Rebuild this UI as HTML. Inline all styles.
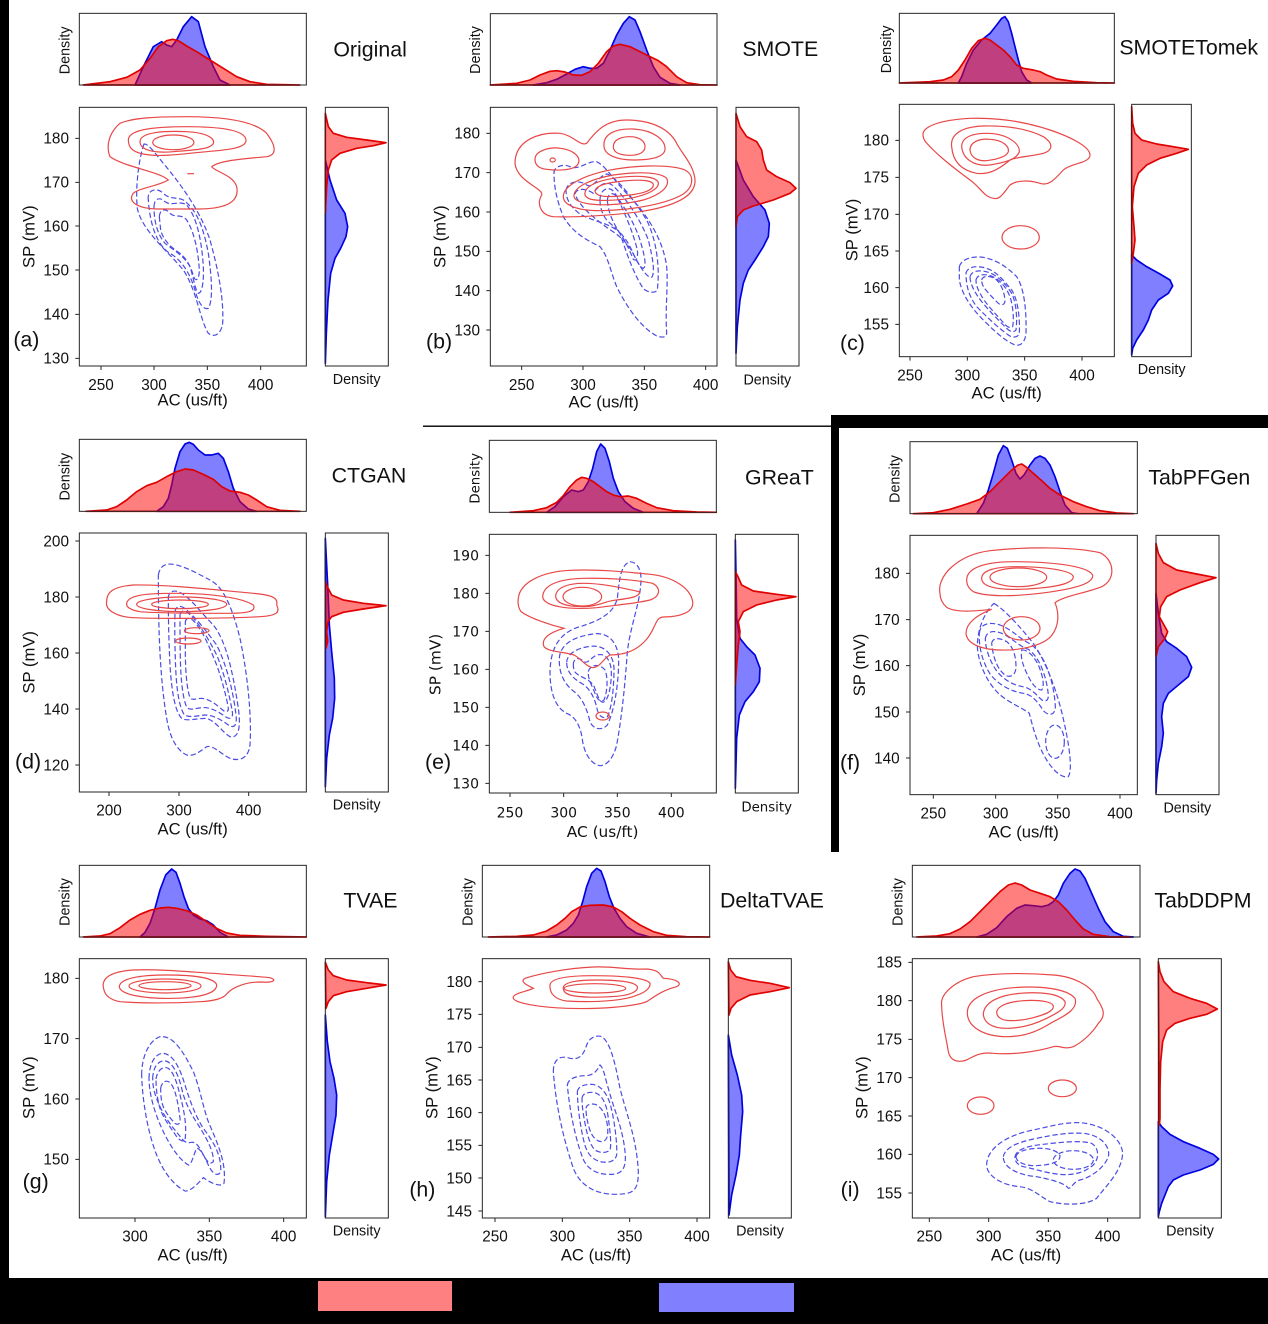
<!DOCTYPE html>
<html><head><meta charset="utf-8"><style>
html,body{margin:0;padding:0;background:#fff}
svg{display:block}
text{font-family:"Liberation Sans",Arial,sans-serif;fill:#111}
.fr{fill:none;stroke:#262626;stroke-width:3}
.tk{stroke:#262626;stroke-width:3;fill:none}
.rc{fill:none;stroke:#e84848;stroke-width:3.6}
.bc{fill:none;stroke:#4c4ce4;stroke-width:3.6;stroke-dasharray:16 8}
.bf{fill:rgba(0,0,255,.5);stroke:#0000e0;stroke-width:5;stroke-linejoin:round}
.rf{fill:rgba(255,0,0,.5);stroke:#e00000;stroke-width:5;stroke-linejoin:round}
.t{font-size:46px}
.al{font-size:50px}
.dn{font-size:43px}
.ti{font-size:64px}
.pl{font-size:64px}
.ye{text-anchor:end}
.xm{text-anchor:middle}
.dj{font-family:"DejaVu Sans",sans-serif}
.dj.t{font-size:42px}
.dj.al{font-size:46px}
.dj.dn{font-size:40px}
</style></head><body>
<svg width="1268" height="1324" viewBox="0 0 1268 1324" xmlns="http://www.w3.org/2000/svg">
<rect x="0" y="0" width="1268" height="1324" fill="#fff"/>
<!-- black decorations -->
<rect x="0" y="0" width="9" height="1280" fill="#000"/>
<rect x="0" y="1278" width="1268" height="46" fill="#000"/>
<rect x="318" y="1281" width="134" height="30" fill="#ff8080"/>
<rect x="659" y="1283" width="135" height="29" fill="#8080ff"/>
<rect x="834" y="415" width="434" height="13" fill="#000"/>
<rect x="831" y="415" width="8" height="437" fill="#000"/>
<rect x="423" y="425.5" width="410" height="1.4" fill="#000"/>

<!-- ===== Panel (a) ===== -->
<g transform="translate(0,0) scale(0.333333)">
<path class="bc" d="M432,432 C418,470 405,560 412,625 C425,690 500,750 550,810 C590,870 600,960 625,1000 C640,1012 662,1008 668,970 C672,900 655,810 630,720 C600,630 540,550 490,490 C465,460 445,430 432,432 Z"/>
<path class="bc" d="M445,600 C440,570 470,560 490,580 C510,600 530,590 550,600 C590,630 610,680 625,760 C635,830 640,900 625,925 C610,930 595,910 585,870 C570,820 545,780 510,760 C475,740 450,680 445,600 Z"/>
<path class="bc" d="M462,620 C462,595 480,590 495,605 C515,620 540,600 560,615 C590,650 605,720 610,800 C612,850 605,880 595,880 C585,870 580,830 570,800 C555,770 520,750 495,730 C470,700 462,660 462,620 Z"/>
<path class="bc" d="M478,650 C480,625 500,625 510,640 C525,655 545,640 560,660 C585,700 595,760 598,810 C598,835 590,845 583,835 C575,810 565,780 540,760 C510,740 490,720 482,690 Z"/>
<path class="rc" d="M330,470 C318,440 325,400 360,370 C400,352 480,350 560,350 C660,350 760,360 800,400 C830,440 830,465 800,470 C740,476 660,480 635,500 C645,515 700,525 710,560 C718,600 690,625 600,627 L470,627 C410,625 385,605 398,582 C410,565 470,560 505,540 C480,515 370,500 330,470 Z"/>
<path class="rc" d="M385,420 C385,385 480,380 560,380 C660,380 735,390 738,420 C740,445 680,450 620,455 C560,460 500,470 450,465 C400,460 385,445 385,420 Z"/>
<path class="rc" d="M420,425 C420,395 500,392 560,395 C620,398 645,415 640,430 C632,448 580,450 520,455 C460,460 420,450 420,425 Z"/>
<ellipse class="rc" cx="520" cy="427" rx="62" ry="22"/>
<path class="rc" d="M562,521 h20"/>
<path class="bf" d="M405,255 L430,200 L460,140 L485,125 L500,135 L515,140 L530,120 L550,80 L575,50 L595,65 L615,140 L640,200 L660,240 L690,255 Z"/>
<path class="rf" d="M250,255 L330,245 L380,232 L420,210 L450,175 L475,140 L500,122 L518,118 L535,122 L560,138 L590,155 L630,180 L670,205 L710,230 L750,245 L800,253 L900,255 Z"/>
<path class="bf" d="M976,480 L990,540 L1010,600 L1035,640 L1043,680 L1038,710 L1022,745 L1005,775 L992,820 L984,900 L979,1000 L976,1090 Z"/>
<path class="rf" d="M976,340 L985,380 L1000,400 L1040,412 L1100,420 L1158,428 L1120,437 L1070,445 L1020,460 L995,480 L985,510 L980,560 L976,640 Z"/>
<rect class="fr" x="238" y="40" width="681" height="215"/>
<rect class="fr" x="238" y="322" width="681" height="776"/>
<rect class="fr" x="976" y="322" width="189" height="776"/>
<path class="tk" d="M226,415h12M226,547h12M226,678h12M226,810h12M226,943h12M226,1075h12M303,1098v12M462,1098v12M622,1098v12M782,1098v12"/>
<text class="t ye" x="207" y="431">180</text><text class="t ye" x="207" y="563">170</text><text class="t ye" x="207" y="694">160</text><text class="t ye" x="207" y="826">150</text><text class="t ye" x="207" y="959">140</text><text class="t ye" x="207" y="1091">130</text>
<text class="t xm" x="303" y="1170">250</text><text class="t xm" x="462" y="1170">300</text><text class="t xm" x="622" y="1170">350</text><text class="t xm" x="782" y="1170">400</text>
<text class="al xm" x="578" y="1217">AC (us/ft)</text>
<text class="al xm" transform="translate(103,710) rotate(-90)">SP (mV)</text>
<text class="dn xm" transform="translate(208,151) rotate(-90)">Density</text>
<text class="dn xm" x="1070" y="1152">Density</text>
<text class="ti" x="1000" y="170">Original</text>
<text class="pl" x="40" y="1040">(a)</text>
</g>

<!-- ===== Panel (b) ===== -->
<g transform="translate(400,0) scale(0.333333)">
<path class="bc" d="M462,520 C460,500 490,490 510,500 C540,512 560,482 590,485 C620,500 640,540 680,580 C740,640 790,720 800,800 C805,860 795,920 800,1000 C798,1015 785,1012 770,1008 C720,980 680,920 650,860 C630,810 625,770 600,740 C560,720 520,700 490,650 C470,600 462,560 462,520 Z"/>
<path class="bc" d="M498,570 C503,542 540,540 560,555 C580,568 600,522 622,522 C660,542 702,600 740,660 C770,722 780,800 772,870 C765,882 740,876 730,866 C700,820 680,760 660,700 C640,672 572,662 540,642 C513,622 498,600 498,570 Z"/>
<path class="bc" d="M525,582 C530,562 560,566 580,580 C600,550 622,540 642,560 C682,600 722,660 745,720 C760,780 765,820 755,832 C740,834 720,800 700,762 C680,722 650,702 620,682 C580,652 540,622 525,582 Z"/>
<path class="bc" d="M600,600 C600,565 630,555 645,580 C670,620 700,660 720,720 C735,770 740,800 730,805 C715,800 705,770 690,740 C670,700 640,680 620,660 C605,640 600,620 600,600 Z"/>
<path class="bc" d="M622,600 C625,575 645,575 655,600 C675,640 700,700 712,750 C715,775 708,785 700,778 C688,750 675,720 660,700 C640,670 625,640 622,600 Z"/>
<path class="rc" d="M345,490 C345,420 420,395 480,400 C520,405 540,440 560,430 C590,390 620,360 680,360 C760,360 810,390 830,430 C845,460 882,495 885,540 C888,590 820,620 720,635 C620,648 520,652 460,650 C420,645 410,610 425,585 C432,565 350,545 345,490 Z"/>
<path class="rc" d="M405,478 C405,452 450,440 482,445 C520,450 548,472 532,495 C518,512 470,512 440,508 C415,505 405,495 405,478 Z"/>
<ellipse class="rc" cx="458" cy="480" rx="8" ry="6"/>
<path class="rc" d="M612,440 C608,400 650,385 700,387 C760,390 798,420 795,450 C790,475 740,480 700,480 C650,480 615,465 612,440 Z"/>
<path class="rc" d="M640,440 C640,418 665,410 690,410 C720,410 735,425 735,440 C735,458 715,466 690,466 C660,466 640,458 640,440 Z"/>
<path class="rc" d="M490,590 C490,560 540,530 620,512 C700,496 800,492 850,508 C885,522 882,560 850,582 C800,612 700,630 600,632 C530,632 490,615 490,590 Z"/>
<path class="rc" d="M522,585 C525,560 570,538 640,525 C710,515 780,515 800,535 C812,560 780,585 730,600 C680,612 620,618 570,612 C535,607 520,598 522,585 Z"/>
<path class="rc" d="M555,578 C560,555 600,540 660,532 C720,525 770,530 775,548 C778,568 740,585 690,595 C640,603 590,603 570,597 C558,592 553,585 555,578 Z"/>
<path class="rc" d="M585,572 C590,555 625,548 670,543 C720,538 760,540 760,555 C760,570 730,580 690,585 C650,590 610,592 595,585 C587,580 584,576 585,572 Z"/>
<path class="bf" d="M400,255 L440,248 L470,238 L500,222 L525,208 L550,200 L570,205 L590,205 L610,190 L630,150 L650,105 L670,70 L688,50 L705,60 L720,95 L740,150 L760,200 L780,232 L810,250 L840,255 Z"/>
<path class="rf" d="M271,255 L350,250 L390,240 L420,225 L450,214 L470,212 L495,216 L520,225 L545,226 L570,215 L595,190 L620,155 L640,138 L660,133 L690,140 L720,155 L750,170 L775,182 L800,200 L830,230 L860,248 L900,254 L951,255 Z"/>
<path class="bf" d="M1008,480 L1030,540 L1060,590 L1095,630 L1108,670 L1105,710 L1090,740 L1065,780 L1045,810 L1030,850 L1020,900 L1012,980 L1008,1060 Z"/>
<path class="rf" d="M1008,340 L1020,380 L1040,410 L1070,425 L1085,450 L1090,480 L1100,510 L1130,530 L1170,548 L1188,565 L1170,580 L1120,600 L1060,618 L1030,630 L1012,650 L1008,680 Z"/>
<rect class="fr" x="271" y="41" width="680" height="214"/>
<rect class="fr" x="271" y="322" width="680" height="776"/>
<rect class="fr" x="1008" y="322" width="189" height="776"/>
<path class="tk" d="M259,400h12M259,518h12M259,636h12M259,754h12M259,872h12M259,990h12M365,1098v12M549,1098v12M733,1098v12M917,1098v12"/>
<text class="t ye" x="240" y="416">180</text><text class="t ye" x="240" y="534">170</text><text class="t ye" x="240" y="652">160</text><text class="t ye" x="240" y="770">150</text><text class="t ye" x="240" y="888">140</text><text class="t ye" x="240" y="1006">130</text>
<text class="t xm" x="365" y="1170">250</text><text class="t xm" x="549" y="1170">300</text><text class="t xm" x="733" y="1170">350</text><text class="t xm" x="917" y="1170">400</text>
<text class="al xm" x="611" y="1223">AC (us/ft)</text>
<text class="al xm" transform="translate(137,710) rotate(-90)">SP (mV)</text>
<text class="dn xm" transform="translate(240,150) rotate(-90)">Density</text>
<text class="dn xm" x="1102" y="1153">Density</text>
<text class="ti" x="1027" y="168">SMOTE</text>
<text class="pl" x="78" y="1045">(b)</text>
</g>

<!-- ===== Panel (c) ===== -->
<g transform="translate(830,0) scale(0.333333)">
<path class="bc" d="M388,800 C395,775 430,768 460,772 C500,780 530,800 560,830 C580,860 590,920 588,1000 C585,1030 570,1038 555,1035 C520,1020 490,990 460,960 C420,920 395,880 388,840 Z"/>
<path class="bc" d="M408,820 C412,800 440,795 470,805 C500,815 520,840 545,870 C565,900 570,960 568,1000 C565,1012 548,1015 535,1005 C500,980 470,950 440,920 C418,890 408,860 408,820 Z"/>
<path class="bc" d="M420,830 C425,812 450,808 478,818 C505,828 525,850 545,880 C560,910 562,960 558,990 C552,998 540,996 530,985 C505,960 480,935 455,905 C432,875 420,850 420,830 Z"/>
<path class="bc" d="M438,840 C442,822 465,820 488,830 C512,840 530,865 540,890 C550,920 552,960 548,980 C540,986 530,980 522,970 C500,945 480,925 462,900 C446,875 438,858 438,840 Z"/>
<path class="bc" d="M455,840 C458,828 475,826 492,834 C510,845 522,870 525,900 C525,915 515,918 505,910 C490,895 470,875 460,860 C456,852 455,846 455,840 Z"/>
<path class="rc" d="M280,410 C270,380 330,360 420,355 C520,352 600,370 660,390 C720,410 780,440 780,465 C780,490 720,490 700,510 C680,530 660,560 630,550 C600,540 560,540 540,555 C520,580 510,600 490,595 C460,590 450,560 420,540 C380,510 340,480 310,450 C290,430 280,420 280,410 Z"/>
<path class="rc" d="M365,440 C360,400 400,380 460,378 C540,376 600,390 640,410 C670,430 670,450 640,460 C600,470 560,470 540,480 C510,505 480,525 440,520 C390,510 368,480 365,440 Z"/>
<path class="rc" d="M395,440 C395,410 430,400 470,400 C530,400 570,430 568,455 C560,480 520,488 480,495 C430,500 398,475 395,440 Z"/>
<path class="rc" d="M420,450 C420,425 450,415 480,418 C520,420 538,440 535,455 C530,470 500,478 470,482 C440,484 422,470 420,450 Z"/>
<ellipse class="rc" cx="572" cy="712" rx="56" ry="35"/>
<path class="bf" d="M385,249 L395,230 L410,190 L430,150 L455,120 L480,100 L500,75 L515,55 L525,50 L535,65 L545,100 L555,140 L565,180 L575,215 L590,240 L605,249 Z"/>
<path class="rf" d="M208,249 L300,245 L340,240 L365,230 L385,210 L405,180 L425,145 L445,122 L465,115 L480,120 L500,135 L520,150 L540,170 L560,195 L580,205 L610,210 L630,215 L650,225 L680,237 L730,244 L800,248 L853,249 Z"/>
<path class="bf" d="M905,765 L920,780 L950,800 L990,822 L1020,840 L1028,858 L1015,880 L985,900 L965,930 L955,960 L940,990 L920,1020 L908,1045 L905,1065 Z"/>
<path class="rf" d="M905,320 L908,370 L915,400 L935,420 L980,432 L1030,440 L1075,448 L1040,460 L990,475 L950,495 L925,520 L912,560 L907,620 L912,680 L915,720 L910,760 L905,790 Z"/>
<rect class="fr" x="208" y="40" width="645" height="209"/>
<rect class="fr" x="208" y="313" width="645" height="757"/>
<rect class="fr" x="905" y="313" width="179" height="757"/>
<path class="tk" d="M196,421h12M196,532h12M196,643h12M196,753h12M196,863h12M196,973h12M240,1070v12M412,1070v12M584,1070v12M756,1070v12"/>
<text class="t ye" x="177" y="437">180</text><text class="t ye" x="177" y="548">175</text><text class="t ye" x="177" y="659">170</text><text class="t ye" x="177" y="769">165</text><text class="t ye" x="177" y="879">160</text><text class="t ye" x="177" y="989">155</text>
<text class="t xm" x="240" y="1142">250</text><text class="t xm" x="412" y="1142">300</text><text class="t xm" x="584" y="1142">350</text><text class="t xm" x="756" y="1142">400</text>
<text class="al xm" x="530" y="1196">AC (us/ft)</text>
<text class="al xm" transform="translate(83,690) rotate(-90)">SP (mV)</text>
<text class="dn xm" transform="translate(183,148) rotate(-90)">Density</text>
<text class="dn xm" x="995" y="1122">Density</text>
<text class="ti" x="868" y="163">SMOTETomek</text>
<text class="pl" x="30" y="1050">(c)</text>
</g>

<!-- ===== Panel (d) ===== -->
<g transform="translate(0,425) scale(0.333333)">
<path class="bc" d="M475,450 C480,420 500,415 520,418 C560,425 600,450 630,465 C660,480 690,520 720,640 C745,760 755,880 750,960 C745,1000 720,1010 690,1000 C660,985 640,960 620,965 C600,980 580,995 560,990 C530,975 510,940 500,880 C480,760 475,620 475,450 Z"/>
<path class="bc" d="M505,520 C505,500 520,495 535,500 C570,515 600,560 640,600 C680,650 700,750 715,850 C725,920 710,940 690,935 C670,925 650,890 620,880 C590,880 560,890 545,880 C525,860 515,800 510,720 C506,640 505,580 505,520 Z"/>
<path class="bc" d="M525,560 C528,540 545,540 560,555 C590,580 620,620 650,660 C680,720 700,800 708,870 C712,905 700,910 685,900 C665,885 640,870 615,870 C590,872 565,880 552,868 C535,840 528,780 526,700 C524,640 524,600 525,560 Z"/>
<path class="bc" d="M540,570 C543,555 555,555 568,567 C595,592 625,640 650,690 C675,750 690,820 697,860 C700,880 690,884 678,876 C655,860 630,845 605,848 C585,850 568,858 560,846 C548,820 542,760 541,700 C540,650 540,610 540,570 Z"/>
<path class="bc" d="M556,590 C560,575 572,578 583,590 C610,620 630,670 650,720 C668,770 680,820 685,850 C686,862 676,862 668,855 C650,840 630,822 605,820 C588,820 575,828 570,818 C560,790 557,740 556,690 Z"/>
<path class="rc" d="M320,530 C320,500 340,485 400,480 C500,478 650,495 760,505 C820,510 835,520 830,540 C840,560 835,572 780,575 C700,580 500,582 400,578 C340,575 315,550 320,530 Z"/>
<path class="rc" d="M380,535 C385,510 440,505 520,505 C620,505 720,515 760,540 C770,560 740,565 680,565 C600,565 480,565 420,560 C390,555 378,545 380,535 Z"/>
<ellipse class="rc" cx="545" cy="538" rx="135" ry="22"/>
<ellipse class="rc" cx="540" cy="538" rx="85" ry="13"/>
<ellipse class="rc" cx="590" cy="617" rx="37" ry="9"/>
<ellipse class="rc" cx="565" cy="648" rx="38" ry="9"/>
<path class="bf" d="M470,259 L490,245 L505,220 L515,180 L525,130 L540,80 L555,57 L568,52 L580,58 L595,75 L615,90 L635,90 L655,85 L670,100 L685,140 L700,190 L720,230 L745,252 L770,259 Z"/>
<path class="rf" d="M258,259 L320,255 L350,245 L380,225 L410,200 L440,182 L470,172 L500,155 L530,140 L555,132 L580,135 L610,148 L640,163 L665,185 L690,198 L720,202 L745,210 L770,225 L800,245 L840,256 L900,259 Z"/>
<path class="bf" d="M976,340 L980,420 L984,500 L988,600 L995,680 L1003,760 L1004,820 L998,880 L988,930 L980,1000 L976,1085 Z"/>
<path class="rf" d="M976,470 L982,485 L995,510 L1030,525 L1090,535 L1158,542 L1090,552 L1030,562 L995,575 L984,590 L980,620 L983,650 L978,670 Z"/>
<rect class="fr" x="238" y="43" width="681" height="216"/>
<rect class="fr" x="238" y="324" width="681" height="777"/>
<rect class="fr" x="976" y="324" width="189" height="777"/>
<path class="tk" d="M226,348h12M226,516h12M226,684h12M226,852h12M226,1020h12M327,1101v12M537,1101v12M746,1101v12"/>
<text class="t ye" x="207" y="364">200</text><text class="t ye" x="207" y="532">180</text><text class="t ye" x="207" y="700">160</text><text class="t ye" x="207" y="868">140</text><text class="t ye" x="207" y="1036">120</text>
<text class="t xm" x="327" y="1172">200</text><text class="t xm" x="537" y="1172">300</text><text class="t xm" x="746" y="1172">400</text>
<text class="al xm" x="578" y="1229">AC (us/ft)</text>
<text class="al xm" transform="translate(103,712) rotate(-90)">SP (mV)</text>
<text class="dn xm" transform="translate(208,155) rotate(-90)">Density</text>
<text class="dn xm" x="1070" y="1153">Density</text>
<text class="ti" x="995" y="172">CTGAN</text>
<text class="pl" x="45" y="1030">(d)</text>
</g>

<!-- ===== Panel (e) ===== -->
<g transform="translate(410,425) scale(0.333333)">
<path class="bc" d="M660,410 C685,412 697,440 692,480 C688,540 662,600 652,680 C645,780 635,880 620,960 C610,1000 590,1022 570,1022 C545,1018 525,990 518,950 C512,900 495,875 470,865 C440,850 420,810 420,740 C422,660 455,625 500,608 C560,590 610,570 622,520 C628,470 630,420 660,410 Z"/>
<path class="bc" d="M448,700 C450,655 498,632 558,626 C602,624 625,660 626,705 C626,780 612,860 592,900 C578,916 550,916 540,890 C533,860 520,822 495,802 C468,782 446,752 448,700 Z"/>
<path class="bc" d="M470,712 C472,685 500,670 540,664 C585,658 610,690 612,730 C612,790 605,850 592,875 C580,882 568,875 562,855 C555,820 540,790 515,775 C488,760 470,740 470,712 Z"/>
<path class="bc" d="M490,720 C490,700 505,695 520,708 C532,720 540,700 560,690 C590,682 605,710 604,750 C602,800 592,830 578,832 C565,828 560,800 550,780 C535,760 505,755 494,740 C491,733 490,726 490,720 Z"/>
<path class="bc" d="M535,740 C540,718 570,715 585,735 C595,760 592,800 582,825 C572,832 562,825 555,805 C545,780 533,760 535,740 Z"/>
<path class="rc" d="M325,520 C330,470 400,440 480,436 C560,432 640,440 720,448 C790,455 842,490 848,530 C852,562 810,576 760,576 C732,578 740,612 705,648 C675,680 640,690 600,690 C580,700 572,725 550,728 C528,726 512,700 492,690 C462,680 418,682 402,665 C392,640 420,622 462,610 C420,600 360,580 333,560 C325,548 323,532 325,520 Z"/>
<path class="rc" d="M398,515 C400,478 450,462 520,460 C600,458 680,465 728,475 C755,490 750,515 720,525 C680,535 620,540 560,548 C480,555 400,545 398,515 Z"/>
<path class="rc" d="M437,512 C440,485 480,475 520,475 C580,475 640,490 688,500 C692,515 660,520 612,526 C582,530 562,545 520,545 C470,545 437,535 437,512 Z"/>
<ellipse class="rc" cx="517" cy="515" rx="58" ry="28"/>
<ellipse class="rc" cx="578" cy="873" rx="20" ry="12"/>
<path class="bf" d="M410,262 L435,245 L460,215 L485,195 L505,200 L520,195 L535,170 L548,130 L560,80 L572,57 L585,70 L598,110 L610,160 L625,200 L645,230 L670,250 L700,262 Z"/>
<path class="rf" d="M300,262 L370,257 L410,248 L440,232 L460,212 L480,185 L500,165 L515,157 L530,160 L550,170 L570,185 L590,200 L610,210 L630,215 L655,213 L680,220 L710,235 L740,248 L790,257 L860,261 L919,262 Z"/>
<path class="bf" d="M976,345 L978,450 L980,580 L990,640 L1010,665 L1035,690 L1050,730 L1048,770 L1030,800 L1005,830 L988,870 L980,940 L976,1090 Z"/>
<path class="rf" d="M976,440 L984,455 L995,480 L1030,498 L1100,508 L1158,515 L1100,525 L1040,540 L1000,560 L985,590 L990,620 L985,660 L980,720 L976,780 Z"/>
<rect class="fr" x="238" y="46" width="681" height="216"/>
<rect class="fr" x="238" y="328" width="681" height="776"/>
<rect class="fr" x="976" y="328" width="189" height="776"/>
<path class="tk" d="M226,391h12M226,505h12M226,619h12M226,733h12M226,847h12M226,961h12M226,1075h12M300,1104v12M461,1104v12M622,1104v12M784,1104v12"/>
<text class="t ye dj" x="207" y="406">190</text><text class="t ye dj" x="207" y="520">180</text><text class="t ye dj" x="207" y="634">170</text><text class="t ye dj" x="207" y="748">160</text><text class="t ye dj" x="207" y="862">150</text><text class="t ye dj" x="207" y="976">140</text><text class="t ye dj" x="207" y="1090">130</text>
<text class="t xm dj" x="300" y="1178">250</text><text class="t xm dj" x="461" y="1178">300</text><text class="t xm dj" x="622" y="1178">350</text><text class="t xm dj" x="784" y="1178">400</text>
<text class="al xm dj" x="578" y="1236">AC (us/ft)</text>
<text class="al xm dj" transform="translate(92,718) rotate(-90)">SP (mV)</text>
<text class="dn xm dj" transform="translate(208,160) rotate(-90)">Density</text>
<text class="dn xm dj" x="1070" y="1160">Density</text>
<text class="ti" x="1005" y="178">GReaT</text>
<text class="pl" x="45" y="1032">(e)</text>
</g>

<!-- ===== Panel (f) ===== -->
<g transform="translate(800,380) scale(0.333333)">
<path class="bc" d="M582,670 C615,690 660,740 700,790 C740,850 775,940 795,1040 C808,1100 818,1170 805,1190 C790,1195 765,1180 740,1140 C712,1095 698,1040 688,1000 C670,985 625,968 595,940 C560,905 535,850 532,800 C532,745 555,695 582,670 Z"/>
<path class="bc" d="M538,760 C540,730 570,725 600,735 C640,750 662,780 692,792 C732,822 762,900 766,980 C766,1005 746,1010 730,992 C712,962 692,942 670,940 C640,935 600,920 570,882 C546,842 536,800 538,760 Z"/>
<path class="bc" d="M556,775 C560,752 585,750 610,762 C640,778 660,800 685,808 C718,830 740,890 745,945 C746,965 732,968 720,955 C702,935 685,922 668,920 C640,915 610,900 588,870 C568,840 556,805 556,775 Z"/>
<path class="bc" d="M575,790 C578,772 598,772 620,785 C640,800 648,830 648,860 C648,885 632,895 615,885 C595,870 580,840 575,790 Z"/>
<path class="bc" d="M665,810 C680,808 700,825 715,855 C728,885 735,920 725,930 C712,930 698,915 688,895 C672,865 660,835 665,810 Z"/>
<ellipse class="bc" cx="765" cy="1085" rx="28" ry="50"/>
<path class="rc" d="M420,640 C410,590 470,525 570,512 C680,500 820,500 900,518 C945,540 948,600 905,620 C855,640 790,648 765,668 C778,700 778,740 752,770 C722,800 652,812 600,810 C540,808 500,790 498,760 C498,730 530,705 575,688 C540,692 470,700 440,682 C425,668 420,652 420,640 Z"/>
<path class="rc" d="M500,600 C500,562 560,545 640,545 C740,545 860,555 878,585 C882,615 800,630 720,640 C640,650 560,650 522,636 C505,626 500,612 500,600 Z"/>
<path class="rc" d="M545,595 C545,570 590,560 650,560 C730,560 815,570 820,590 C820,615 740,625 660,628 C590,630 545,620 545,595 Z"/>
<ellipse class="rc" cx="655" cy="592" rx="85" ry="28"/>
<ellipse class="rc" cx="665" cy="745" rx="55" ry="35"/>
<path class="bf" d="M530,401 L550,370 L565,330 L580,280 L595,225 L610,197 L622,205 L635,240 L648,280 L660,297 L672,285 L690,255 L705,235 L720,228 L735,235 L750,255 L765,290 L780,335 L795,375 L815,398 L835,401 Z"/>
<path class="rf" d="M340,401 L400,398 L450,388 L500,372 L540,358 L570,335 L600,305 L630,275 L652,256 L665,252 L680,262 L700,280 L725,302 L750,325 L780,345 L820,365 L860,380 L900,392 L950,399 L1000,401 Z"/>
<path class="bf" d="M1068,640 L1075,700 L1085,760 L1100,785 L1130,805 L1160,830 L1175,862 L1165,890 L1135,915 L1105,940 L1090,970 L1085,1010 L1090,1060 L1085,1100 L1075,1150 L1070,1200 L1068,1240 Z"/>
<path class="rf" d="M1068,490 L1075,520 L1090,548 L1130,570 L1190,582 L1248,593 L1200,608 L1140,630 L1100,650 L1082,680 L1078,710 L1092,735 L1103,755 L1095,775 L1075,800 L1068,830 Z"/>
<rect class="fr" x="330" y="185" width="682" height="216"/>
<rect class="fr" x="330" y="466" width="682" height="778"/>
<rect class="fr" x="1068" y="466" width="189" height="778"/>
<path class="tk" d="M318,580h12M318,719h12M318,857h12M318,996h12M318,1134h12M400,1244v12M587,1244v12M773,1244v12M960,1244v12"/>
<text class="t ye" x="299" y="596">180</text><text class="t ye" x="299" y="735">170</text><text class="t ye" x="299" y="873">160</text><text class="t ye" x="299" y="1012">150</text><text class="t ye" x="299" y="1150">140</text>
<text class="t xm" x="400" y="1316">250</text><text class="t xm" x="587" y="1316">300</text><text class="t xm" x="773" y="1316">350</text><text class="t xm" x="960" y="1316">400</text>
<text class="al xm" x="671" y="1373">AC (us/ft)</text>
<text class="al xm" transform="translate(195,855) rotate(-90)">SP (mV)</text>
<text class="dn xm" transform="translate(298,297) rotate(-90)">Density</text>
<text class="dn xm" x="1162" y="1297">Density</text>
<text class="ti" x="1045" y="314">TabPFGen</text>
<text class="pl" x="120" y="1168">(f)</text>
</g>

<!-- ===== Panel (g) ===== -->
<g transform="translate(0,855) scale(0.333333)">
<path class="bc" d="M425,660 C425,600 450,555 480,545 C520,540 550,590 580,650 C600,700 610,760 625,800 C650,860 680,920 672,985 C665,995 640,990 610,968 C590,990 570,1010 555,1008 C520,990 490,950 470,900 C450,850 428,760 425,660 Z"/>
<path class="bc" d="M447,670 C448,625 465,595 490,595 C520,598 540,640 555,690 C570,740 590,790 610,820 C640,860 665,900 662,950 C655,965 638,960 625,930 C612,900 600,880 590,880 C580,900 575,930 565,930 C540,915 515,880 495,840 C470,790 448,730 447,670 Z"/>
<path class="bc" d="M458,670 C460,630 478,615 498,618 C520,625 535,660 545,700 C555,745 575,780 595,810 C620,850 642,890 640,920 C632,930 620,920 610,900 C600,880 590,860 575,862 C560,865 552,860 545,850 C520,820 495,790 478,750 C464,720 458,695 458,670 Z"/>
<path class="bc" d="M468,672 C472,645 490,632 505,640 C525,655 535,700 545,740 C555,780 560,820 555,855 C548,862 538,855 530,845 C510,815 490,790 480,760 C472,735 468,700 468,672 Z"/>
<path class="bc" d="M482,700 C485,680 500,672 512,685 C528,705 535,750 540,790 C542,805 535,812 525,805 C510,790 495,770 488,750 C483,735 482,715 482,700 Z"/>
<path class="rc" d="M312,405 C300,370 330,350 400,345 C480,342 560,350 640,355 C700,360 760,363 810,368 C832,375 822,384 780,381 C740,381 700,395 682,415 C670,432 640,438 600,440 C520,445 420,445 360,440 C330,435 315,420 312,405 Z"/>
<path class="rc" d="M358,395 C360,370 420,360 500,360 C580,360 645,368 650,390 C650,415 600,428 520,430 C440,432 360,420 358,395 Z"/>
<ellipse class="rc" cx="495" cy="393" rx="108" ry="21"/>
<ellipse class="rc" cx="495" cy="392" rx="78" ry="12"/>
<path class="bf" d="M420,246 L435,232 L450,205 L465,160 L480,105 L497,60 L515,42 L528,52 L540,85 L552,125 L565,160 L580,180 L600,192 L620,197 L640,210 L660,232 L685,246 Z"/>
<path class="rf" d="M250,246 L300,243 L330,236 L360,218 L390,195 L420,178 L450,166 L480,159 L505,157 L530,160 L560,167 L590,180 L620,200 L650,220 L680,234 L720,241 L800,244 L919,246 Z"/>
<path class="bf" d="M976,480 L982,560 L990,620 L1002,670 L1010,720 L1008,780 L998,840 L988,900 L980,980 L976,1085 Z"/>
<path class="rf" d="M976,322 L985,345 L1000,362 L1040,375 L1100,383 L1158,390 L1100,400 L1040,410 L1000,422 L985,440 L978,460 Z"/>
<rect class="fr" x="238" y="31" width="681" height="215"/>
<rect class="fr" x="238" y="311" width="681" height="778"/>
<rect class="fr" x="976" y="311" width="189" height="778"/>
<path class="tk" d="M226,370h12M226,551h12M226,732h12M226,913h12M405,1089v12M628,1089v12M851,1089v12"/>
<text class="t ye" x="207" y="386">180</text><text class="t ye" x="207" y="567">170</text><text class="t ye" x="207" y="748">160</text><text class="t ye" x="207" y="929">150</text>
<text class="t xm" x="405" y="1160">300</text><text class="t xm" x="628" y="1160">350</text><text class="t xm" x="851" y="1160">400</text>
<text class="al xm" x="578" y="1217">AC (us/ft)</text>
<text class="al xm" transform="translate(103,698) rotate(-90)">SP (mV)</text>
<text class="dn xm" transform="translate(208,141) rotate(-90)">Density</text>
<text class="dn xm" x="1070" y="1142">Density</text>
<text class="ti" x="1030" y="158">TVAE</text>
<text class="pl" x="68" y="1000">(g)</text>
</g>

<!-- ===== Panel (h) ===== -->
<g transform="translate(400,855) scale(0.333333)">
<path class="bc" d="M460,650 C460,612 480,600 510,610 C540,615 550,600 560,570 C570,545 590,540 605,545 C630,560 645,620 660,700 C680,780 710,850 715,950 C715,1010 700,1018 640,1018 C580,1015 540,990 520,940 C500,880 470,780 460,650 Z"/>
<path class="bc" d="M502,690 C505,670 530,662 560,662 C585,660 595,640 600,630 C612,640 615,670 625,700 C640,760 670,820 676,900 C678,950 660,960 620,958 C580,955 555,935 545,900 C530,860 510,780 502,690 Z"/>
<path class="bc" d="M532,710 C535,692 555,688 575,688 C600,690 618,710 630,745 C645,800 652,870 650,900 C645,920 625,925 600,920 C575,912 560,895 552,860 C542,820 533,760 532,710 Z"/>
<path class="bc" d="M546,730 C548,715 562,712 578,712 C600,714 615,735 622,770 C630,820 635,870 630,885 C620,895 600,895 585,885 C570,870 562,840 556,810 C550,780 546,755 546,730 Z"/>
<path class="bc" d="M558,760 C560,748 572,745 585,748 C605,755 618,780 622,810 C626,840 622,858 605,860 C590,860 575,845 568,820 C562,800 558,780 558,760 Z"/>
<path class="rc" d="M340,430 C335,415 380,410 400,400 C380,390 358,380 375,370 C420,355 500,340 580,336 C640,333 680,345 740,342 C780,345 780,360 790,370 C830,372 850,385 830,395 C790,405 770,420 740,440 C700,455 600,463 500,460 C420,457 345,445 340,430 Z"/>
<path class="rc" d="M450,390 C452,370 500,362 580,362 C660,362 740,368 750,385 C752,405 720,420 680,430 C630,440 560,442 500,438 C465,434 448,415 450,390 Z"/>
<path class="rc" d="M490,398 C492,382 530,375 590,375 C650,375 705,380 712,395 C715,410 690,420 650,424 C600,428 540,428 510,420 C495,415 489,408 490,398 Z"/>
<ellipse class="rc" cx="585" cy="400" rx="92" ry="14"/>
<path class="bf" d="M440,246 L470,240 L500,225 L520,205 L535,180 L548,140 L560,95 L575,55 L590,40 L603,48 L615,80 L628,125 L642,160 L660,190 L680,215 L710,235 L750,246 Z"/>
<path class="rf" d="M265,246 L350,244 L400,240 L440,228 L470,210 L495,190 L515,170 L540,156 L570,151 L610,150 L640,156 L665,170 L690,190 L720,210 L760,230 L800,241 L860,245 L929,246 Z"/>
<path class="bf" d="M985,540 L995,600 L1012,660 L1025,720 L1028,770 L1022,840 L1018,900 L1008,960 L995,1020 L987,1080 Z"/>
<path class="rf" d="M985,320 L992,345 L1008,365 L1050,376 L1110,385 L1168,398 L1110,410 L1050,420 L1010,440 L993,460 L987,480 Z"/>
<rect class="fr" x="247" y="31" width="682" height="215"/>
<rect class="fr" x="247" y="311" width="682" height="778"/>
<rect class="fr" x="985" y="311" width="189" height="778"/>
<path class="tk" d="M235,380h12M235,478h12M235,577h12M235,675h12M235,773h12M235,871h12M235,969h12M235,1068h12M285,1089v12M487,1089v12M689,1089v12M891,1089v12"/>
<text class="t ye" x="216" y="396">180</text><text class="t ye" x="216" y="494">175</text><text class="t ye" x="216" y="593">170</text><text class="t ye" x="216" y="691">165</text><text class="t ye" x="216" y="789">160</text><text class="t ye" x="216" y="887">155</text><text class="t ye" x="216" y="985">150</text><text class="t ye" x="216" y="1084">145</text>
<text class="t xm" x="285" y="1160">250</text><text class="t xm" x="487" y="1160">300</text><text class="t xm" x="689" y="1160">350</text><text class="t xm" x="891" y="1160">400</text>
<text class="al xm" x="588" y="1217">AC (us/ft)</text>
<text class="al xm" transform="translate(113,698) rotate(-90)">SP (mV)</text>
<text class="dn xm" transform="translate(217,141) rotate(-90)">Density</text>
<text class="dn xm" x="1080" y="1142">Density</text>
<text class="ti" x="960" y="158">DeltaTVAE</text>
<text class="pl" x="28" y="1025">(h)</text>
</g>

<!-- ===== Panel (i) ===== -->
<g transform="translate(820,855) scale(0.333333)">
<path class="bc" d="M500,930 C500,880 560,840 640,825 C700,812 730,802 780,803 C850,808 905,850 908,895 C905,950 860,990 830,1030 C800,1050 740,1052 690,1040 C660,1025 640,1000 600,995 C540,990 500,960 500,930 Z"/>
<path class="bc" d="M550,905 C555,875 600,860 650,850 C700,840 740,832 790,835 C840,840 868,870 866,900 C860,930 820,965 780,975 C760,980 755,1000 745,1000 C735,985 700,975 650,965 C590,960 548,935 550,905 Z"/>
<path class="bc" d="M585,905 C590,880 630,872 670,868 C720,862 780,855 815,865 C838,880 838,910 820,930 C795,952 760,962 720,958 C680,955 640,940 610,935 C592,930 584,918 585,905 Z"/>
<path class="bc" d="M588,905 C592,888 620,882 650,880 C690,878 720,890 720,905 C718,922 690,930 650,932 C615,934 588,920 588,905 Z"/>
<ellipse class="bc" cx="760" cy="915" rx="60" ry="28"/>
<path class="rc" d="M365,450 C360,420 400,380 460,365 C540,352 640,355 700,360 C770,365 820,400 830,430 C850,460 860,480 835,505 C820,530 790,560 760,575 C730,585 720,570 700,575 C650,590 580,600 520,595 C480,590 460,605 440,615 C410,625 390,615 385,590 C380,555 365,500 365,450 Z"/>
<path class="rc" d="M442,470 C445,430 500,405 580,398 C660,392 740,400 765,430 C775,460 740,480 700,500 C660,525 620,545 560,545 C500,545 440,520 442,470 Z"/>
<path class="rc" d="M490,475 C495,440 540,420 600,415 C660,410 720,415 735,440 C740,460 710,475 680,490 C640,510 600,520 560,520 C520,520 490,505 490,475 Z"/>
<path class="rc" d="M530,470 C535,450 570,440 610,437 C660,434 700,440 700,455 C700,470 670,480 640,488 C600,498 560,500 545,492 C532,485 530,478 530,470 Z"/>
<ellipse class="rc" cx="482" cy="752" rx="40" ry="26"/>
<ellipse class="rc" cx="727" cy="700" rx="42" ry="25"/>
<path class="bf" d="M470,246 L500,238 L530,218 L560,185 L590,160 L615,150 L640,152 L665,155 L685,150 L700,140 L715,120 L730,85 L750,55 L765,42 L780,48 L795,70 L815,115 L835,160 L855,200 L880,230 L910,244 L940,246 Z"/>
<path class="rf" d="M290,246 L350,243 L390,236 L420,222 L450,200 L480,170 L510,140 L540,110 L565,90 L585,84 L605,90 L630,105 L660,115 L690,125 L715,140 L740,165 L765,195 L790,222 L820,238 L870,245 L930,246 Z"/>
<path class="bf" d="M1015,800 L1025,815 L1050,838 L1090,860 L1140,880 L1180,898 L1196,912 L1180,928 L1140,945 L1090,960 L1060,975 L1045,995 L1035,1020 L1025,1045 L1018,1070 L1015,1085 Z"/>
<path class="rf" d="M1015,320 L1020,350 L1032,380 L1060,410 L1110,430 L1160,445 L1192,462 L1160,478 L1110,490 L1065,505 L1040,525 L1028,560 L1022,620 L1020,700 L1020,790 L1018,810 Z"/>
<rect class="fr" x="277" y="31" width="683" height="215"/>
<rect class="fr" x="277" y="311" width="683" height="778"/>
<rect class="fr" x="1015" y="311" width="189" height="778"/>
<path class="tk" d="M265,322h12M265,437h12M265,553h12M265,668h12M265,783h12M265,898h12M265,1014h12M328,1089v12M506,1089v12M685,1089v12M863,1089v12"/>
<text class="t ye" x="246" y="338">185</text><text class="t ye" x="246" y="453">180</text><text class="t ye" x="246" y="569">175</text><text class="t ye" x="246" y="684">170</text><text class="t ye" x="246" y="799">165</text><text class="t ye" x="246" y="914">160</text><text class="t ye" x="246" y="1030">155</text>
<text class="t xm" x="328" y="1160">250</text><text class="t xm" x="506" y="1160">300</text><text class="t xm" x="685" y="1160">350</text><text class="t xm" x="863" y="1160">400</text>
<text class="al xm" x="618" y="1217">AC (us/ft)</text>
<text class="al xm" transform="translate(143,698) rotate(-90)">SP (mV)</text>
<text class="dn xm" transform="translate(248,141) rotate(-90)">Density</text>
<text class="dn xm" x="1110" y="1142">Density</text>
<text class="ti" x="1003" y="158">TabDDPM</text>
<text class="pl" x="62" y="1025">(i)</text>
</g>
</svg>
</body></html>
